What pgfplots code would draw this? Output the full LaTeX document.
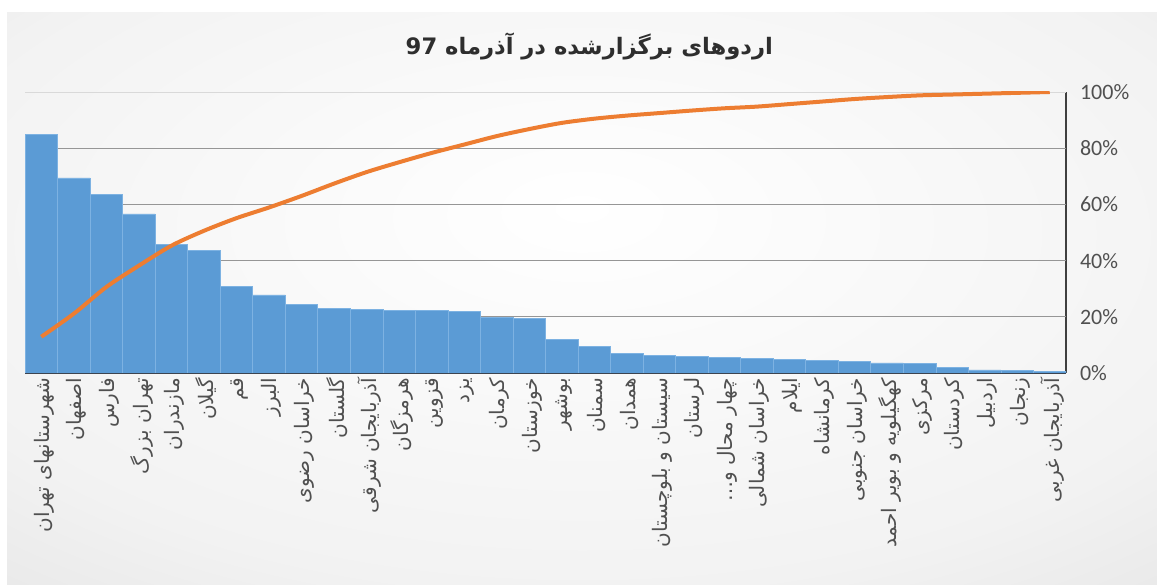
\documentclass[border=0pt]{standalone}
\usepackage{pgfplots}
\pgfplotsset{compat=1.18}
\usepackage{fontspec}
\setmainfont{Carlito}
\newfontfamily\arabicfont[Script=Arabic]{DejaVu Sans}
\newfontfamily\latinfont{DejaVu Sans}
\TeXXeTstate=1
\definecolor{barblue}{RGB}{91,155,213}
\definecolor{barsep}{RGB}{125,178,226}
\definecolor{lineorange}{RGB}{237,125,49}
\definecolor{labgray}{RGB}{80,80,80}
\definecolor{gridgray}{RGB}{150,150,150}
\definecolor{axisdark}{RGB}{60,68,80}
\pgfdeclareradialshading{bgshade}{\pgfpoint{0bp}{8bp}}{color(0bp)=(white); color(30bp)=(white!95!black); color(55bp)=(white!85!black); color(75bp)=(white!78!black)}

\begin{document}
\begin{tikzpicture}[x=1pt,y=1pt]
\useasboundingbox (0,0) rectangle (867.75,438.75);
\fill[white] (0,0) rectangle (867.75,438.75);
\shade[shading=bgshade] (5.25,0) rectangle (867.75,429);
\node[font=\arabicfont\bfseries\fontsize{17}{20}\selectfont, text=black!82] at (442,404)
  {\beginR اردوهای برگزارشده در آذرماه {\latinfont\bfseries\beginL 97\endL}\endR};
\begin{axis}[
  at={(18.75pt,159pt)}, anchor=south west, scale only axis,
  width=780.75pt, height=210.75pt,
  xmin=-0.5, xmax=31.5, ymin=0, ymax=100,
  axis x line*=bottom, axis y line*=right,
  x axis line style={-, draw=axisdark, line width=2pt},
  y axis line style={-, draw=black!75, line width=1.5pt},
  major tick length=0pt,
  xtick={0,...,31},
  ytick={0,20,40,60,80,100},
  yticklabels={0\%,20\%,40\%,60\%,80\%,100\%},
  extra y ticks={20,40,60,80},
  extra y tick labels={},
  extra y tick style={grid=major, major grid style={gridgray, line width=0.8pt}},
  yticklabel style={font=\fontsize{16.5}{18}\selectfont, text=labgray, anchor=west, xshift=7pt},
  xticklabel style={rotate=90, anchor=east, font=\arabicfont\fontsize{15}{17}\selectfont, text=labgray, yshift=-2pt},
  xticklabels={
{{\beginR شهرستانهای تهران\endR}},
{{\beginR اصفهان\endR}},
{{\beginR فارس\endR}},
{{\beginR تهران بزرگ\endR}},
{{\beginR مازندران\endR}},
{{\beginR گیلان\endR}},
{{\beginR قم\endR}},
{{\beginR البرز\endR}},
{{\beginR خراسان رضوی\endR}},
{{\beginR گلستان\endR}},
{{\beginR آذربایجان شرقی\endR}},
{{\beginR هرمزگان\endR}},
{{\beginR قزوین\endR}},
{{\beginR یزد\endR}},
{{\beginR کرمان\endR}},
{{\beginR خوزستان\endR}},
{{\beginR بوشهر\endR}},
{{\beginR سمنان\endR}},
{{\beginR همدان\endR}},
{{\beginR سیستان و بلوچستان\endR}},
{{\beginR لرستان\endR}},
{{\beginR چهار محال و…\endR}},
{{\beginR خراسان شمالی\endR}},
{{\beginR ایلام\endR}},
{{\beginR کرمانشاه\endR}},
{{\beginR خراسان جنوبی\endR}},
{{\beginR کهگیلویه و بویر احمد\endR}},
{{\beginR مرکزی\endR}},
{{\beginR کردستان\endR}},
{{\beginR اردبیل\endR}},
{{\beginR زنجان\endR}},
{{\beginR آذربایجان غربی\endR}}
  },
]
\draw[black!15, line width=0.6pt] (axis cs:-0.5,100) -- (axis cs:31.5,100);
\addplot[ybar, bar width=1, fill=barblue, draw=barsep, line width=0.5pt] coordinates {
(0,84.8) (1,69.4) (2,63.5) (3,56.6) (4,45.9) (5,43.6) (6,30.9) (7,27.8)
(8,24.5) (9,23.1) (10,22.7) (11,22.4) (12,22.2) (13,21.8) (14,19.7) (15,19.4)
(16,11.9) (17,9.6) (18,6.9) (19,6.4) (20,5.9) (21,5.5) (22,5.3) (23,4.8)
(24,4.6) (25,4.2) (26,3.6) (27,3.3) (28,2.1) (29,1.1) (30,0.8) (31,0.5)
};
\addplot[lineorange, line width=3pt, smooth, tension=0.5, no markers] coordinates {
(0,12.9) (1,21.1) (2,30.6) (3,38.2) (4,45.3) (5,50.6) (6,55.1) (7,58.9)
(8,63.0) (9,67.4) (10,71.5) (11,75.0) (12,78.3) (13,81.3) (14,84.3) (15,86.8)
(16,89.0) (17,90.5) (18,91.6) (19,92.5) (20,93.4) (21,94.2) (22,94.8) (23,95.7)
(24,96.6) (25,97.5) (26,98.2) (27,98.8) (28,99.1) (29,99.4) (30,99.7) (31,100)
};
\end{axis}
\end{tikzpicture}
\end{document}
